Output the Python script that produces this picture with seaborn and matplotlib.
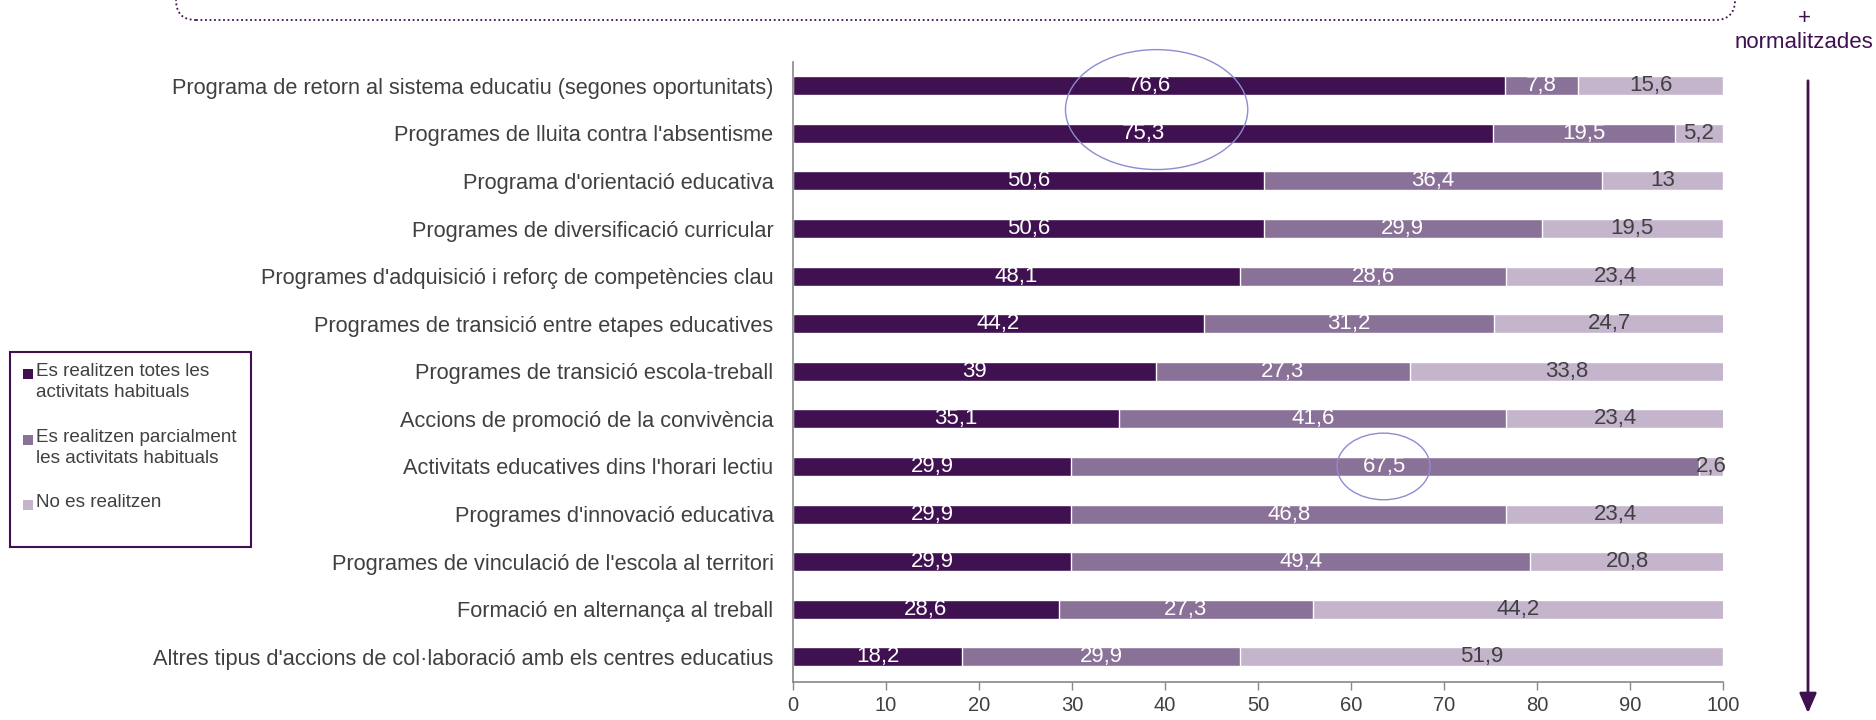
import matplotlib
matplotlib.use("Agg")
import matplotlib.pyplot as plt
from matplotlib.patches import Ellipse, Rectangle, FancyBboxPatch, FancyArrowPatch
import seaborn as sns
import pandas as pd
import numpy as np

categories = [
    "Programa de retorn al sistema educatiu (segones oportunitats)",
    "Programes de lluita contra l'absentisme",
    "Programa d'orientació educativa",
    "Programes de diversificació curricular",
    "Programes d'adquisició i reforç de competències clau",
    "Programes de transició entre etapes educatives",
    "Programes de transició escola-treball",
    "Accions de promoció de la convivència",
    "Activitats educatives dins l'horari lectiu",
    "Programes d'innovació educativa",
    "Programes de vinculació de l'escola al territori",
    "Formació en alternança al treball",
    "Altres tipus d'accions de col·laboració amb els centres educatius",
]
totes = [76.6, 75.3, 50.6, 50.6, 48.1, 44.2, 39, 35.1, 29.9, 29.9, 29.9, 28.6, 18.2]
parcial = [7.8, 19.5, 36.4, 29.9, 28.6, 31.2, 27.3, 41.6, 67.5, 46.8, 49.4, 27.3, 29.9]
no_realitzen = [15.6, 5.2, 13, 19.5, 23.4, 24.7, 33.8, 23.4, 2.6, 23.4, 20.8, 44.2, 51.9]
series_names = ["Es realitzen totes les\nactivitats habituals",
                "Es realitzen parcialment\nles activitats habituals",
                "No es realitzen"]
xticks = [0, 10, 20, 30, 40, 50, 60, 70, 80, 90, 100]

colors = ["#3f1150", "#8a7197", "#c4b5cc"]
label_colors = ["white", "white", "#404040"]
purple = "#3f1150"
gray = "#404040"

sns.set_theme(style="white")
plt.rcParams['font.family'] = ['Liberation Sans', 'DejaVu Sans']

df = pd.DataFrame({"cat": categories, "a": totes, "b": parcial, "c": no_realitzen})
df["ab"] = df["a"] + df["b"]
df["abc"] = df["ab"] + df["c"]

fig = plt.figure(figsize=(18.76, 7.2), dpi=100)
ax = fig.add_axes([793/1876, 1-682/720, (1723-793)/1876, (682-62)/720])

for col, c in zip(["abc", "ab", "a"], colors[::-1]):
    sns.barplot(data=df, x=col, y="cat", orient="h", color=c, width=0.4,
                saturation=1, ax=ax, order=categories)

# value labels
for i, row in df.iterrows():
    starts = [0, row["a"], row["ab"]]
    vals = [row["a"], row["b"], row["c"]]
    for s, v, lc in zip(starts, vals, label_colors):
        txt = (f"{v:g}").replace(".", ",")
        ax.text(s + v / 2, i, txt, ha="center", va="center", color=lc,
                fontsize=16, clip_on=False)

ax.set_xlim(0, 100)
ax.set_ylim(12.53, -0.5)
ax.set_xticks(xticks)
ax.set_xticklabels([str(t) for t in xticks], fontsize=14.5, color=gray)
ax.set_xlabel("")
ax.set_ylabel("")
ax.tick_params(axis="y", length=0, pad=14, labelsize=15.65, labelcolor=gray)
ax.tick_params(axis="x", length=6, width=1, color="#888888", direction="out", pad=4, bottom=True)
for s in ["top", "right"]:
    ax.spines[s].set_visible(False)
for s in ["left", "bottom"]:
    ax.spines[s].set_color("#888888")
    ax.spines[s].set_linewidth(1.2)

# highlight ellipses
ax.add_patch(Ellipse((39.1, 0.5), 19.6, 2.52, fill=False, edgecolor="#8c8cd0", lw=1, clip_on=False, zorder=5))
ax.add_patch(Ellipse((63.5, 8.0), 10.0, 1.4, fill=False, edgecolor="#8c8cd0", lw=1, clip_on=False, zorder=5))

# legend box
fig.add_artist(Rectangle((10/1876, 1-547/720), 241/1876, 195/720, transform=fig.transFigure,
                         fill=False, edgecolor=purple, lw=1.5))
leg_y = [374, 440, 505]
for name, c, y in zip(series_names, colors, leg_y):
    fig.add_artist(Rectangle((23/1876, 1-(y+5)/720), 10/1876, 10/720, transform=fig.transFigure,
                             facecolor=c, edgecolor="none"))
    fig.text(36/1876, 1-(y-11)/720, name, ha="left", va="top", fontsize=13.6, color=gray,
             linespacing=1.3)

# top dotted rounded box (cut off)
fig.add_artist(FancyBboxPatch((1.76, 7.0), 17.35-1.76, 1.0, boxstyle="round,pad=0,rounding_size=0.2",
                              transform=fig.dpi_scale_trans, fill=False, edgecolor=purple,
                              lw=1.3, linestyle=(0, (1, 1.5))))

# right side arrow and label
fig.text(1804/1876, 1-18/720, "+", ha="center", va="center", fontsize=16, color=purple)
fig.text(1804/1876, 1-42/720, "normalitzades", ha="center", va="center", fontsize=16, color=purple)
fig.add_artist(FancyArrowPatch((1808/1876, 1-78/720), (1808/1876, 1-716/720), transform=fig.transFigure,
                               arrowstyle="-|>,head_length=6,head_width=2.6", color=purple, lw=2,
                               mutation_scale=2))

fig.savefig("out.png", dpi=100)
